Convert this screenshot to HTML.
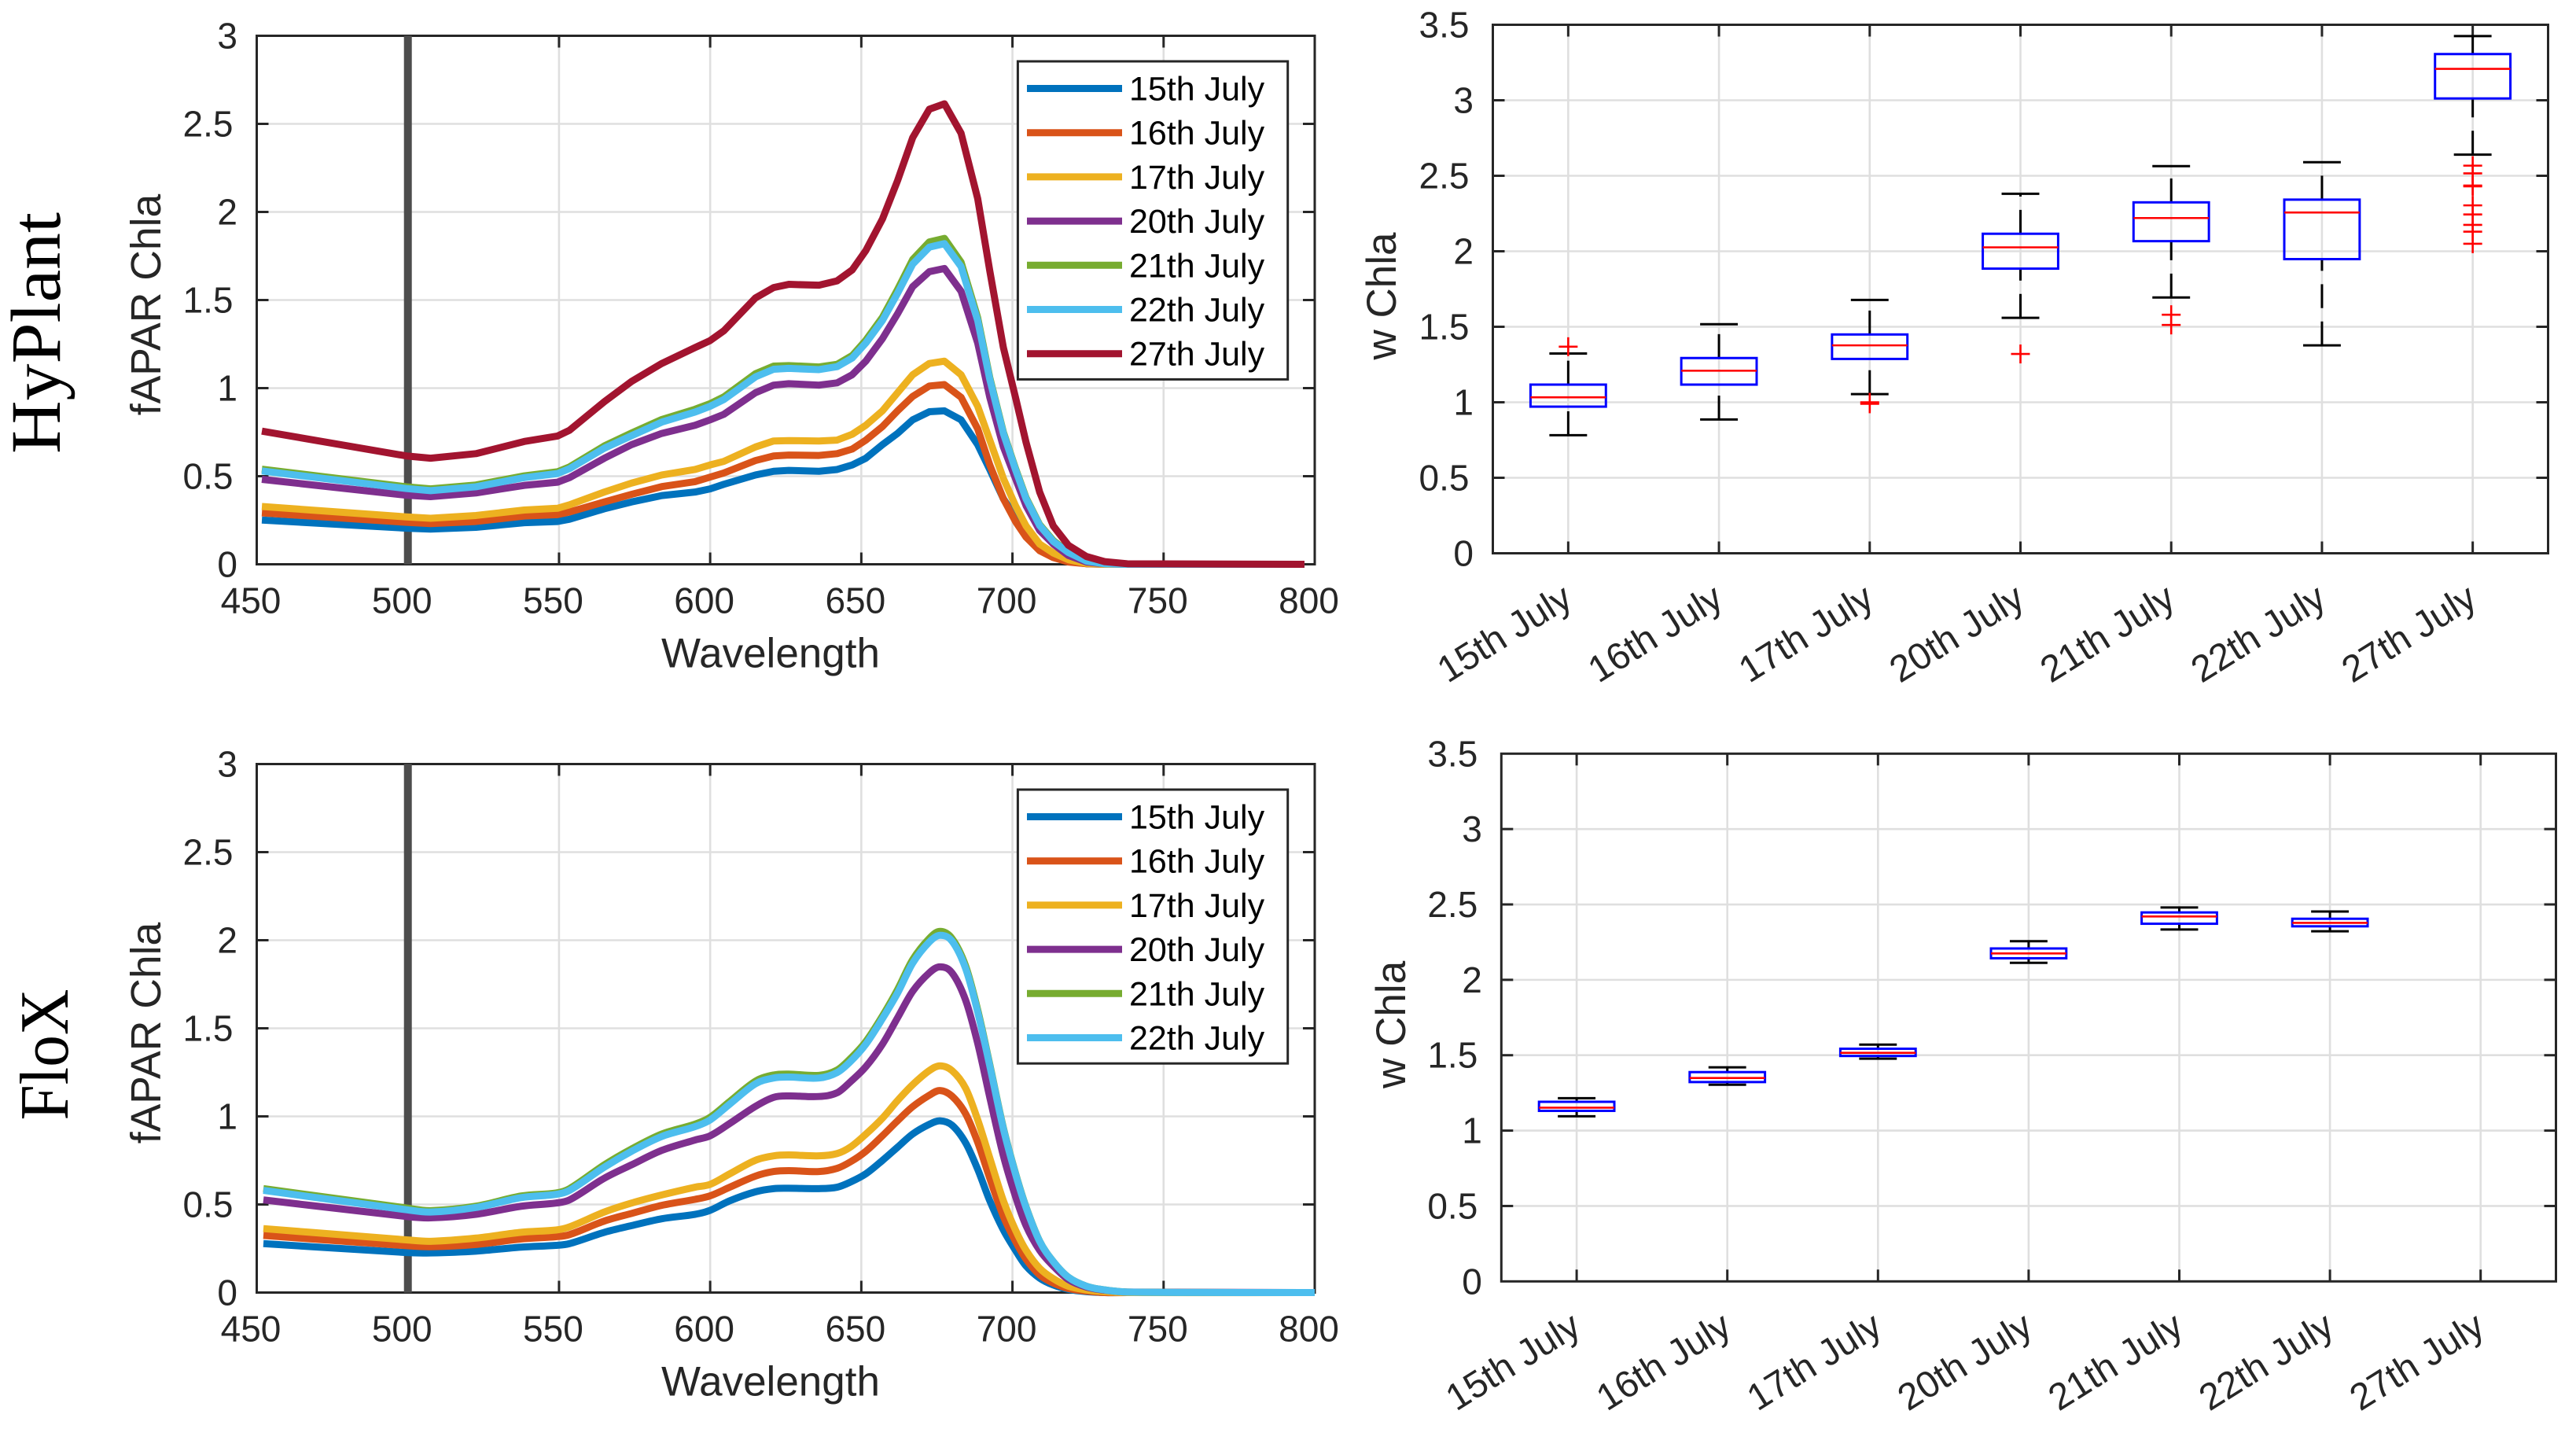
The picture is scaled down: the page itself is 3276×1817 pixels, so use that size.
<!DOCTYPE html>
<html lang="en">
<head>
<meta charset="utf-8">
<title>fAPAR Chla and w Chla, HyPlant and FloX</title>
<style>
html,body{margin:0;padding:0;background:#fff;}
svg{display:block;font-family:"Liberation Sans",Arial,sans-serif;}
</style>
</head>
<body>
<svg id="figure" xmlns="http://www.w3.org/2000/svg" width="3276" height="1817" viewBox="0 0 3276 1817">
<rect x="0" y="0" width="3276" height="1817" fill="#fff"/>
<text transform="translate(76,423.5) rotate(-90)" text-anchor="middle" font-family="'Liberation Serif',serif" font-size="90" textLength="307" lengthAdjust="spacingAndGlyphs" fill="#000">HyPlant</text>
<text transform="translate(86,1341) rotate(-90)" text-anchor="middle" font-family="'Liberation Serif',serif" font-size="88" textLength="167" lengthAdjust="spacingAndGlyphs" fill="#000">FloX</text>
</svg>
<script>
// ---------- category / legend names ----------
const DATES = ['15th July','16th July','17th July','20th July','21th July','22th July','27th July'];
const FLOX_DATES = ['15th July','16th July','17th July','20th July','21th July','22th July'];
const SERIES_COLORS = ['#0072BD','#D95319','#EDB120','#7E2F8E','#77AC30','#4DBEEE','#A2142F'];

// ---------- tick labels ----------
const SPEC_X_TICKS = [450,500,550,600,650,700,750,800];
const SPEC_Y_TICKS = [0,0.5,1,1.5,2,2.5,3];
const SPEC_Y_LABELS = ['0','0.5','1','1.5','2','2.5','3'];
const BOX_Y_TICKS = [0,0.5,1,1.5,2,2.5,3,3.5];
const BOX_Y_LABELS = ['0','0.5','1','1.5','2','2.5','3','3.5'];

// ---------- HyPlant spectra ----------
const HY_WL = [451.7,499.5,507.5,522.5,538.5,549.5,553.5,565,574,584,595,600,604.5,615,621,626,636,642,647,651.5,657,662,667,672.5,677.5,683,688.5,692.5,697,701,704.5,709,713.5,718.5,724.5,730.5,738,796.6];
const HY_15 = [.251,.205,.2,.21,.236,.243,.256,.315,.354,.39,.41,.428,.454,.507,.528,.533,.528,.538,.564,.602,.679,.743,.82,.866,.871,.82,.679,.538,.372,.269,.179,.103,.051,.018,.003,0,0,0];
const HY_16 = [.292,.238,.231,.243,.274,.282,.297,.354,.397,.441,.469,.495,.518,.589,.615,.62,.618,.628,.654,.705,.782,.871,.953,1.012,1.02,.948,.769,.564,.372,.243,.154,.077,.038,.013,.003,0,0,0];
const HY_17 = [.328,.269,.261,.277,.308,.318,.338,.41,.461,.507,.538,.564,.584,.666,.7,.702,.7,.705,.738,.789,.871,.974,1.076,1.14,1.153,1.076,.897,.705,.487,.333,.218,.115,.064,.026,.005,0,0,0];
const HY_20 = [.482,.392,.384,.405,.448,.466,.492,.602,.679,.743,.789,.82,.851,.974,1.017,1.025,1.017,1.03,1.076,1.153,1.281,1.422,1.576,1.661,1.679,1.55,1.256,.948,.666,.487,.333,.192,.115,.05,.013,.003,0,0];
const HY_21 = [.54,.44,.428,.45,.502,.525,.553,.672,.745,.822,.88,.912,.95,1.082,1.125,1.128,1.12,1.135,1.185,1.272,1.402,1.56,1.73,1.83,1.85,1.715,1.4,1.06,.75,.545,.378,.225,.135,.069,.019,.004,0,0];
const HY_22 = [.53,.43,.418,.44,.492,.515,.543,.659,.73,.807,.864,.897,.935,1.064,1.107,1.112,1.105,1.122,1.171,1.256,1.384,1.538,1.704,1.8,1.82,1.69,1.384,1.05,.743,.538,.372,.22,.13,.067,.018,.003,0,0];
const HY_27 = [.756,.615,.602,.628,.697,.728,.761,.923,1.038,1.14,1.23,1.27,1.325,1.512,1.571,1.589,1.584,1.609,1.671,1.781,1.96,2.178,2.422,2.583,2.614,2.447,2.076,1.666,1.23,.948,.692,.41,.218,.108,.044,.015,.003,0];
const HY_SERIES = [HY_15,HY_16,HY_17,HY_20,HY_21,HY_22,HY_27];

// ---------- FloX spectra ----------
const FX_WL = [452.2,499.5,507.5,522.5,537.5,549,553.5,565,574,584,595,600,606.5,615,621,626,636,642,646.5,651.5,657,662,667,672.5,676,680,684.5,688.5,692.5,697,701,704.5,709,713.5,718.5,724.5,730.5,738,800];
const FX_15 = [.278,.227,.225,.235,.258,.268,.278,.342,.38,.419,.444,.467,.521,.572,.59,.592,.59,.598,.628,.674,.75,.825,.9,.955,.975,.95,.85,.7,.521,.355,.24,.151,.082,.043,.018,.005,0,0,0];
const FX_16 = [.324,.266,.26,.273,.304,.317,.329,.406,.449,.495,.529,.549,.598,.661,.687,.692,.687,.705,.743,.802,.89,.975,1.055,1.12,1.147,1.115,1.015,.853,.649,.432,.291,.189,.1,.054,.023,.008,0,0,0];
const FX_17 = [.363,.299,.291,.309,.342,.355,.373,.457,.508,.554,.598,.614,.674,.751,.776,.781,.776,.789,.827,.899,.99,1.09,1.18,1.26,1.287,1.26,1.16,.981,.764,.521,.355,.24,.138,.079,.036,.015,.005,0,0];
const FX_20 = [.526,.432,.424,.444,.49,.508,.526,.649,.725,.807,.866,.89,.96,1.057,1.108,1.116,1.113,1.134,1.198,1.282,1.41,1.56,1.71,1.815,1.849,1.815,1.66,1.415,1.108,.776,.546,.38,.24,.151,.074,.031,.013,.003,0];
const FX_21 = [.59,.48,.465,.49,.548,.565,.59,.725,.815,.9,.956,.995,1.085,1.2,1.235,1.24,1.233,1.263,1.33,1.425,1.57,1.72,1.89,2.01,2.05,2.01,1.855,1.605,1.295,.935,.678,.486,.292,.176,.087,.036,.015,.003,0];
const FX_22 = [.58,.47,.457,.483,.539,.557,.58,.712,.802,.886,.942,.98,1.07,1.185,1.218,1.223,1.218,1.249,1.313,1.41,1.555,1.7,1.87,1.99,2.028,1.995,1.84,1.593,1.287,.93,.674,.483,.291,.176,.087,.036,.015,.003,0];
const FX_SERIES = [FX_15,FX_16,FX_17,FX_20,FX_21,FX_22];

// ---------- marker position (wavelength) ----------
const MARKER_WL = 500;

// ---------- HyPlant box statistics ----------
const HY_LOW = [.782,.886,1.054,1.559,1.694,1.377,2.64];
const HY_Q1 = [.971,1.117,1.287,1.885,2.067,1.948,3.012];
const HY_MED = [1.033,1.209,1.377,2.026,2.22,2.257,3.208];
const HY_Q3 = [1.117,1.293,1.449,2.116,2.324,2.342,3.306];
const HY_HIGH = [1.323,1.517,1.678,2.381,2.564,2.59,3.425];
const HY_OUT = [[1.368],[],[.99,1],[1.32],[1.58,1.512],[],[2.567,2.516,2.435,2.43,2.304,2.244,2.175,2.13,2.05]];

// ---------- FloX box statistics ----------
const FX_LOW = [1.095,1.304,1.477,2.113,2.334,2.322,null];
const FX_Q1 = [1.131,1.322,1.495,2.143,2.372,2.355,null];
const FX_MED = [1.152,1.349,1.516,2.175,2.42,2.378,null];
const FX_Q3 = [1.191,1.388,1.543,2.208,2.447,2.405,null];
const FX_HIGH = [1.215,1.42,1.57,2.256,2.48,2.453,null];
const FX_OUT = [[],[],[],[],[],[],[]];

const svg = document.getElementById('figure');
const NS = 'http://www.w3.org/2000/svg';
const AXIS = '#262626', GRID = '#dfdfdf';

function mk(tag, attrs, parent){
  const n = document.createElementNS(NS, tag);
  for (const k in attrs) n.setAttribute(k, attrs[k]);
  (parent || svg).appendChild(n);
  return n;
}
function scaleLinear(d0, d1, r0, r1){
  return v => r0 + (v - d0) * (r1 - r0) / (d1 - d0);
}
function linePath(xs, ys){
  return xs.map((x,i)=>(i?'L':'M')+x.toFixed(2)+' '+ys[i].toFixed(2)).join(' ');
}
function smoothPath(xs, ys){
  let d = 'M'+xs[0].toFixed(2)+' '+ys[0].toFixed(2);
  for (let i=0;i<xs.length-1;i++){
    const a=Math.max(i-1,0), b=Math.min(i+2,xs.length-1);
    const h=xs[i+1]-xs[i];
    const m0=(ys[i+1]-ys[a])/(xs[i+1]-xs[a]), m1=(ys[b]-ys[i])/(xs[b]-xs[i]);
    const c1x=xs[i]+h/3, c1y=ys[i]+m0*h/3;
    const c2x=xs[i+1]-h/3, c2y=ys[i+1]-m1*h/3;
    d+=' C'+c1x.toFixed(2)+' '+c1y.toFixed(2)+' '+c2x.toFixed(2)+' '+c2y.toFixed(2)+' '+xs[i+1].toFixed(2)+' '+ys[i+1].toFixed(2);
  }
  return d;
}
function seg(parent,x1,y1,x2,y2,stroke,w,name){
  const l = mk('line',{x1:x1,y1:y1,x2:x2,y2:y2,stroke:stroke,'stroke-width':w},parent);
  
  
  return l;
}
function label(parent,x,y,str,size,anchor,fill,name,rot){
  const t = mk('text',{x:x,y:y,'font-size':size,'text-anchor':anchor,fill:fill},parent);
  if (rot) t.setAttribute('transform','rotate('+rot+' '+x+' '+y+')');
  
  
  t.textContent = str;
  return t;
}

function yAxisCommon(g, box, yScale, ticks, labels){
  ticks.forEach((v,i)=>{
    const y = yScale(v);
    if (i>0 && i<ticks.length-1) seg(g, box.l, y, box.r, y, GRID, 2.6, 'horizontal-gridline');
  });
  return function drawTicks(){
    ticks.forEach((v,i)=>{
      const y = yScale(v);
      if (i>0 && i<ticks.length-1){
        seg(g, box.l, y, box.l+15, y, AXIS, 3, 'y-tick-left');
        seg(g, box.r-15, y, box.r, y, AXIS, 3, 'y-tick-right');
      }
      const dec = labels[i].indexOf('.')>=0;
      label(g, box.l-(dec?30:24.5), y+16, labels[i], 46, 'end', AXIS, 'y-tick-label');
    });
  };
}
function frame(g, box){
  const r = mk('rect',{x:box.l,y:box.t,width:box.r-box.l,height:box.b-box.t,fill:'none',stroke:AXIS,'stroke-width':3},g);
  
  
}

function drawSpectrum(name, box, wl, series, names, smooth){
  const g = mk('g',{});
  
  
  const xS = scaleLinear(450,800,box.l,box.r);
  const yS = scaleLinear(0,3,box.b,box.t);
  SPEC_X_TICKS.forEach((v,i)=>{
    if (i>0 && i<SPEC_X_TICKS.length-1) seg(g, xS(v), box.t, xS(v), box.b, GRID, 2.6, 'vertical-gridline');
  });
  const drawTicks = yAxisCommon(g, box, yS, SPEC_Y_TICKS, SPEC_Y_LABELS);
  SPEC_X_TICKS.forEach((v,i)=>{
    if (i>0 && i<SPEC_X_TICKS.length-1){
      seg(g, xS(v), box.b-15, xS(v), box.b, AXIS, 3, 'x-tick-bottom');
      seg(g, xS(v), box.t, xS(v), box.t+15, AXIS, 3, 'x-tick-top');
    }
    label(g, xS(v)-7.5, box.b+62, String(v), 46, 'middle', AXIS, 'x-tick-label');
  });
  drawTicks();
  frame(g, box);
  const m = seg(g, xS(MARKER_WL), box.t, xS(MARKER_WL), box.b, '#4d4d4d', 10, 'wavelength-marker-line');
  m.setAttribute('stroke-linecap','butt');
  series.forEach((vals,i)=>{
    const xs = wl.map(xS), ys = vals.map(yS);
    const p = mk('path',{d:(smooth?smoothPath:linePath)(xs,ys),fill:'none',stroke:SERIES_COLORS[i],'stroke-width':9,'stroke-linejoin':'round','stroke-linecap':'butt'},g);
    
    
  });
  label(g, box.l+653.5, box.b+131, 'Wavelength', 53, 'middle', AXIS, 'x-axis-title');
  const yl = label(g, 204, (box.t+box.b)/2+6, 'fAPAR Chla', 53.5, 'middle', AXIS, 'y-axis-title');
  yl.setAttribute('transform','rotate(-90 204 '+((box.t+box.b)/2+6)+')');
  // legend
  const lg = mk('g',{},g);
  
  
  const top = box.t+32.5;
  const rowH = 56.2;
  const lb = mk('rect',{x:1294.4,y:top,width:343.3,height:rowH*names.length+11,fill:'#fff',stroke:AXIS,'stroke-width':3},lg);
  
  
  names.forEach((nm,i)=>{
    const y = top+34.5+rowH*i;
    seg(lg, 1306, y, 1427, y, SERIES_COLORS[i], 9, 'legend-swatch');
    label(lg, 1436, y+15, nm, 43, 'start', '#000', 'legend-entry');
  });
}

function drawBoxes(name, box, yLabelX, low, q1, med, q3, high, out){
  const g = mk('g',{});
  
  
  const xS = scaleLinear(0.5,7.5,box.l,box.r);
  const yS = scaleLinear(0,3.5,box.b,box.t);
  DATES.forEach((d,i)=>{ seg(g, xS(i+1), box.t, xS(i+1), box.b, GRID, 2.6, 'vertical-gridline'); });
  const drawTicks = yAxisCommon(g, box, yS, BOX_Y_TICKS, BOX_Y_LABELS);
  DATES.forEach((d,i)=>{
    const x = xS(i+1);
    seg(g, x, box.b-15, x, box.b, AXIS, 3, 'x-tick-bottom');
    seg(g, x, box.t, x, box.t+15, AXIS, 3, 'x-tick-top');
    label(g, x+8, box.b+65, d, 47.5, 'end', AXIS, 'x-tick-label', -32);
  });
  drawTicks();
  frame(g, box);
  const step = xS(2)-xS(1);
  DATES.forEach((d,i)=>{
    if (low[i]===null) return;
    const x = xS(i+1);
    const bw = step*0.25, cw = step*0.125;
    const w1 = seg(g, x, yS(low[i]), x, yS(q1[i]), '#000', 3, 'whisker-lower');
    w1.setAttribute('stroke-dasharray','30.4 17');
    const w2 = seg(g, x, yS(q3[i]), x, yS(high[i]), '#000', 3, 'whisker-upper');
    w2.setAttribute('stroke-dasharray','30.4 17');
    seg(g, x-cw, yS(low[i]), x+cw, yS(low[i]), '#000', 3, 'whisker-cap-lower');
    seg(g, x-cw, yS(high[i]), x+cw, yS(high[i]), '#000', 3, 'whisker-cap-upper');
    const r = mk('rect',{x:x-bw,y:yS(q3[i]),width:bw*2,height:yS(q1[i])-yS(q3[i]),fill:'none',stroke:'#0000ff','stroke-width':3},g);
    
    
    seg(g, x-bw, yS(med[i]), x+bw, yS(med[i]), '#ff0000', 2.6, 'median-line');
    out[i].forEach(v=>{
      seg(g, x-12, yS(v), x+12, yS(v), '#ff0000', 2.6, 'outlier-marker');
      seg(g, x, yS(v)-12, x, yS(v)+12, '#ff0000', 2.6, 'outlier-marker');
    });
  });
  const cy = (box.t+box.b)/2+9;
  const yl = label(g, yLabelX, cy, 'w Chla', 53, 'middle', AXIS, 'y-axis-title');
  yl.setAttribute('transform','rotate(-90 '+yLabelX+' '+cy+')');
}

drawSpectrum('hyplant-spectrum-chart',{l:326.5,r:1672,t:45.5,b:717.5},HY_WL,HY_SERIES,DATES,false);
drawSpectrum('flox-spectrum-chart',{l:326.5,r:1672,t:971.5,b:1643.5},FX_WL,FX_SERIES,FLOX_DATES,true);
drawBoxes('hyplant-boxplot',{l:1898.5,r:3240.5,t:31.5,b:703.5},1775,HY_LOW,HY_Q1,HY_MED,HY_Q3,HY_HIGH,HY_OUT);
drawBoxes('flox-boxplot',{l:1909.3,r:3250.5,t:958.3,b:1629.3},1787,FX_LOW,FX_Q1,FX_MED,FX_Q3,FX_HIGH,FX_OUT);
</script>
</body>
</html>
